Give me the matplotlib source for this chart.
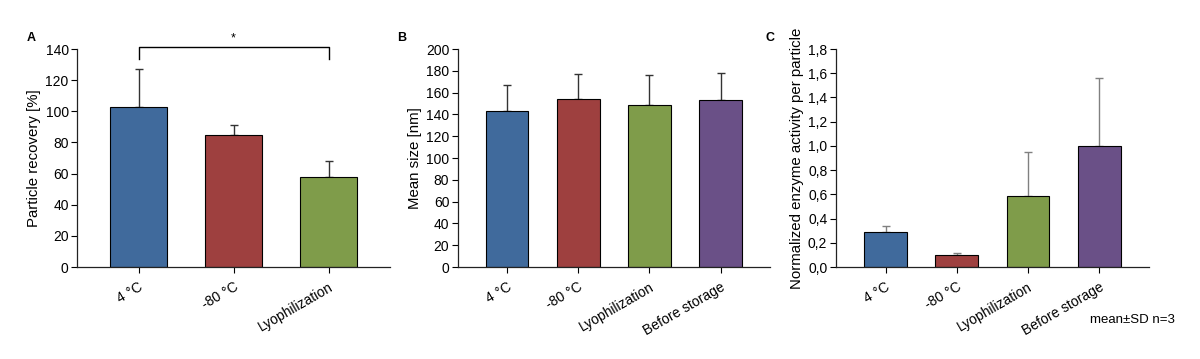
import matplotlib
matplotlib.use("Agg")
import matplotlib.pyplot as plt
from matplotlib.ticker import FuncFormatter

plt.rcParams['font.family'] = ['Liberation Sans', 'DejaVu Sans']

# panel A: particle recovery
cats_a = ["4 °C", "-80 °C", "Lyophilization"]
recovery = [103, 85, 58]
recovery_sd = [24, 6, 10]

# panel B: mean size
cats_bc = ["4 °C", "-80 °C", "Lyophilization", "Before storage"]
size_nm = [143, 154, 149, 153]
size_sd = [24, 23, 27, 25]

# panel C: normalized enzyme activity
activity = [0.29, 0.10, 0.585, 1.0]
activity_sd = [0.05, 0.015, 0.365, 0.56]

colors = ["#406a9c", "#9e403f", "#7f9c4a", "#6a5087"]

fig = plt.figure(figsize=(12, 3.59), dpi=100)
bottom, height = 0.256, 0.6075
ax_a = fig.add_axes([0.0642, bottom, 0.2608, height])
ax_b = fig.add_axes([0.3814, bottom, 0.2603, height])
ax_c = fig.add_axes([0.6964, bottom, 0.2611, height])


def draw(ax, cats, vals, sds, ecolor, ylim, yticks, ylabel, margin):
    x = list(range(len(cats)))
    ax.bar(x, vals, width=0.6, color=colors[:len(cats)], edgecolor="black", linewidth=0.8, zorder=2)
    ax.errorbar(x, vals, yerr=[[0] * len(sds), sds], fmt="none", ecolor=ecolor,
                elinewidth=1.0, capsize=3, capthick=1.0, zorder=1)
    ax.set_xlim(-margin, len(cats) - 1 + margin)
    ax.set_ylim(*ylim)
    ax.set_yticks(yticks)
    ax.set_xticks(x)
    ax.set_xticklabels(cats, rotation=30, ha="right", rotation_mode="anchor", fontsize=10)
    ax.tick_params(axis="y", labelsize=10, direction="out", length=4, width=0.8, pad=2)
    ax.tick_params(axis="x", direction="out", length=4, width=0.8, pad=5)
    ax.set_ylabel(ylabel, fontsize=10.8, labelpad=3)
    for s in ["top", "right"]:
        ax.spines[s].set_visible(False)
    for s in ["left", "bottom"]:
        ax.spines[s].set_color("#222222")
        ax.spines[s].set_linewidth(0.9)
    ax.spines["left"].set_bounds(ylim[0], ylim[1])


draw(ax_a, cats_a, recovery, recovery_sd, "#333333", (0, 140), range(0, 141, 20),
     "Particle recovery [%]", 0.647)
draw(ax_b, cats_bc, size_nm, size_sd, "#333333", (0, 200), range(0, 201, 20),
     "Mean size [nm]", 0.695)
draw(ax_c, cats_bc, activity, activity_sd, "#808080", (0, 1.8), [i * 0.2 for i in range(10)],
     "Normalized enzyme activity per particle", 0.70)
ax_c.yaxis.set_major_formatter(FuncFormatter(lambda v, p: f"{v:.1f}".replace(".", ",")))

# significance bracket in A
ax_a.plot([0, 0, 2, 2], [133.4, 141, 141, 133.4], color="black", linewidth=1.0,
          clip_on=False)
ax_a.text(1, 143, "*", ha="center", va="bottom", fontsize=9)

fig.text(0.022, 0.885, "A", fontsize=9, fontweight="bold")
fig.text(0.331, 0.885, "B", fontsize=9, fontweight="bold")
fig.text(0.638, 0.885, "C", fontsize=9, fontweight="bold")
fig.text(0.979, 0.1, "mean±SD n=3", ha="right", fontsize=9.5)

fig.savefig("out.png", dpi=100)
